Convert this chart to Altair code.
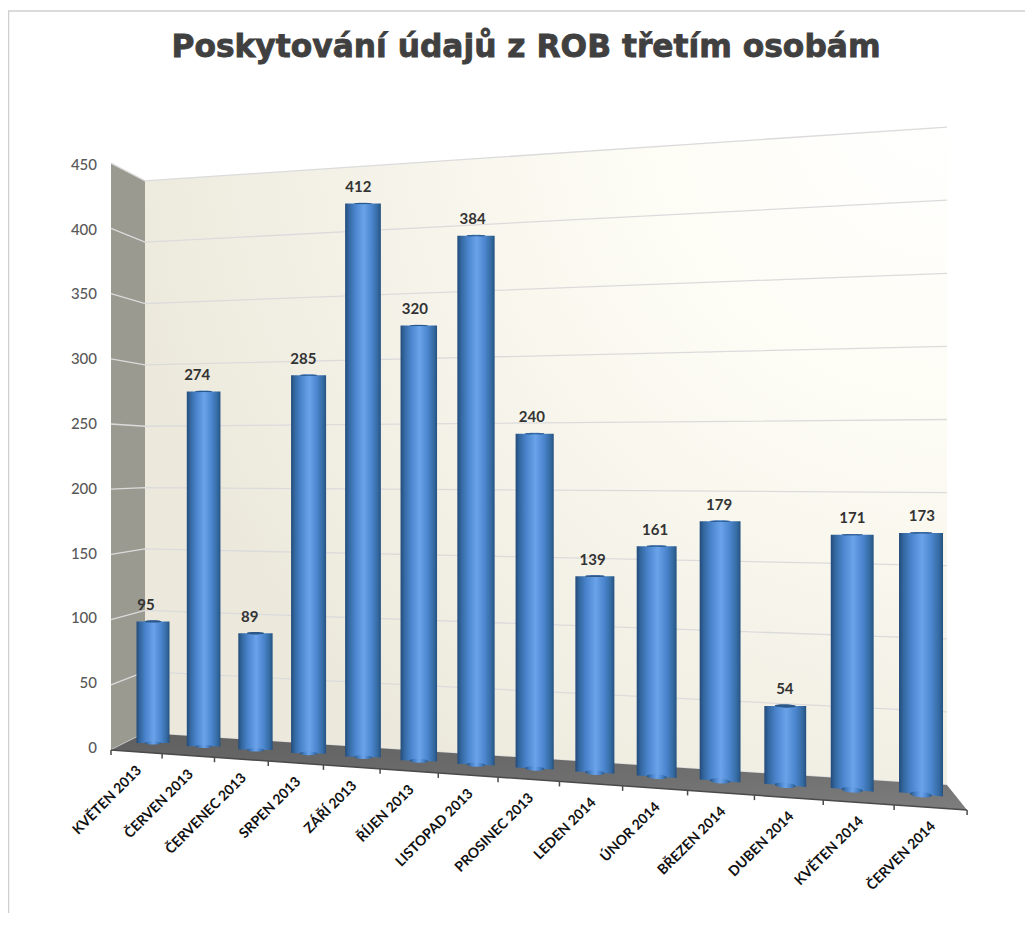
import altair as alt
import pandas as pd

categories = ["KVĚTEN 2013", "ČERVEN 2013", "ČERVENEC 2013", "SRPEN 2013", "ZÁŘÍ 2013", "ŘÍJEN 2013",
              "LISTOPAD 2013", "PROSINEC 2013", "LEDEN 2014", "ÚNOR 2014", "BŘEZEN 2014", "DUBEN 2014",
              "KVĚTEN 2014", "ČERVEN 2014"]
values = [95, 274, 89, 285, 412, 320, 384, 240, 139, 161, 179, 54, 171, 173]
axis_ticks = list(range(0, 451, 50))
title_text = "Poskytování údajů z ROB třetím osobám"

# ---- scene: a projective view of the 3D chart box ----
X_MIN, X_MAX = 111, 1025
P_TOP, P_BOTTOM = 100, 830
AX_ZERO, AX_K = 748, 1.296


def vy(p):
    """Screen height -> units of the left value axis."""
    return (AX_ZERO - p) / AX_K


def bar_cx(i):
    return (153 + 48.22 * i) / (1 - 0.01179 * i)


def bar_w(i):
    return 33 / (1 - 0.01923 * i)


def bar_y(i, v):
    return (743 - 5.41 * i - 1.28 * v) / (1 - 0.01179 * i)


def front_x(t):
    return (111 + 49.07 * t) / (1 - 0.01249 * t)


def front_y(x):
    return 750 + (x - 111) * 60 / 856


def wall_left(v):
    return 733 - 1.227 * v


def wall_right(v):
    return 785 - 1.462 * v


def side_y(v):
    return 750 - 1.304 * v


def ell(ratio):
    r = round(ratio, 4)
    return f"M-1,0A1,{r},0,1,1,1,0A1,{r},0,1,1,-1,0Z"


def stops(pairs):
    return [alt.GradientStop(color=c, offset=o) for c, o in pairs]


WL, WR, FR = 145, 947, 967
top_v = axis_ticks[-1]

Y_SCALE = alt.Scale(domain=[vy(P_BOTTOM), vy(P_TOP)])
X = alt.X("x:Q", scale=alt.Scale(domain=[X_MIN, X_MAX]), axis=None)
Y = alt.Y("y:Q", scale=Y_SCALE, axis=None, stack=None)
Y_PLAIN = alt.Y("y:Q", scale=Y_SCALE, axis=None)

bar_grad = alt.LinearGradient(gradient="linear", x1=0, x2=1, y1=0, y2=0, stops=stops([
    ("#234a7a", 0), ("#33679f", 0.1), ("#4a84cc", 0.28), ("#6aa3ea", 0.52),
    ("#4a84cc", 0.75), ("#33699f", 0.92), ("#25507f", 1)]))
wall_grad = alt.RadialGradient(gradient="radial", x1=1.0, y1=0.05, x2=1.0, y2=0.05, r1=0, r2=1.05, stops=stops([
    ("#ffffff", 0), ("#fdfcf4", 0.4), ("#ece9dc", 1)]))
floor_grad = alt.LinearGradient(gradient="linear", x1=0, x2=1, y1=0, y2=1, stops=stops([
    ("#5f5f5f", 0), ("#6f6f6f", 0.6), ("#7d7d7d", 1)]))

# value-axis labels, placed on the same y scale
axis_df = pd.DataFrame({"x": [97] * len(axis_ticks), "y": axis_ticks, "t": [str(v) for v in axis_ticks]})
axis_labels = alt.Chart(axis_df).mark_text(
    font="Lato", fontSize=15, fontWeight=500, color="#595959", align="right", baseline="middle"
).encode(x=X, y=Y_PLAIN, text="t:N")

# frame
frame_df = pd.DataFrame({"x": [8.5, 8.5, 1025], "y": [vy(913), vy(11), vy(11)], "o": [0, 1, 2]})
frame = alt.Chart(frame_df).mark_line(color="#cfcfcf", strokeWidth=1.5, clip=False).encode(x=X, y=Y, order="o:Q")

# title
title_df = pd.DataFrame({"x": [526], "y": [vy(48)], "t": [title_text]})
title = alt.Chart(title_df).mark_text(
    font="DejaVu Sans", fontSize=31.3, fontWeight="bold", color="#404040", stroke="#404040", strokeWidth=0.8,
    align="center", baseline="middle"
).encode(x=X, y=Y_PLAIN, text="t:N")

# walls
back_df = pd.DataFrame({"x": [WL, WR], "y": [vy(wall_left(top_v)), vy(wall_right(top_v))],
                        "y2": [vy(wall_left(0)), vy(wall_right(0))]})
back = alt.Chart(back_df).mark_area(fill=wall_grad, opacity=1).encode(x=X, y=Y, y2="y2:Q")
side_df = pd.DataFrame({"x": [X_MIN, WL], "y": [vy(side_y(top_v)), vy(wall_left(top_v))],
                        "y2": [vy(side_y(0)), vy(wall_left(0))]})
side = alt.Chart(side_df).mark_area(color="#9a9a90", opacity=1).encode(x=X, y=Y, y2="y2:Q")

# gridlines
grid_rows = []
for v in axis_ticks:
    grid_rows += [{"x": X_MIN, "y": vy(side_y(v)), "g": v, "o": 0},
                  {"x": WL, "y": vy(wall_left(v)), "g": v, "o": 1},
                  {"x": WR, "y": vy(wall_right(v)), "g": v, "o": 2}]
grid = alt.Chart(pd.DataFrame(grid_rows)).mark_line(color="#dcdbdc", strokeWidth=1.3).encode(
    x=X, y=Y, detail="g:Q", order="o:Q")

# floor
fx = [X_MIN, WL, WR, FR]
floor_df = pd.DataFrame({"x": fx, "y": [vy(side_y(0)), vy(wall_left(0)), vy(wall_right(0)), vy(front_y(FR))],
                         "y2": [vy(front_y(x)) for x in fx]})
floor = alt.Chart(floor_df).mark_area(fill=floor_grad, opacity=1).encode(x=X, y=Y, y2="y2:Q")
edge_df = pd.DataFrame({"x": [X_MIN, FR], "y": [vy(front_y(X_MIN)), vy(front_y(FR))]})
edge = alt.Chart(edge_df).mark_line(color="#4a4a4a", strokeWidth=1.5).encode(x=X, y=Y)

# category ticks
tick_rows = []
for t in range(len(categories) + 1):
    x = front_x(t)
    tick_rows.append({"x": x, "y": vy(front_y(x)), "y2": vy(front_y(x) + 5)})
cat_ticks = alt.Chart(pd.DataFrame(tick_rows)).mark_rule(color="#4a4a4a", strokeWidth=1.5).encode(x=X, y=Y, y2="y2:Q")

# cylinders
body_rows, end_rows, label_rows, cat_rows = [], [], [], []
for i, (c, v) in enumerate(zip(categories, values)):
    cx, w = bar_cx(i), bar_w(i)
    base, top = bar_y(i, 0), bar_y(i, v)
    tilt = 0.42 * i
    slope = w / 2 * tilt * 3.14159 / 180
    body_rows += [{"x": cx - w / 2, "y": vy(top), "y2": vy(base - slope), "b": i},
                  {"x": cx + w / 2, "y": vy(top), "y2": vy(base + slope), "b": i}]
    ry = 3 + 0.2 * i
    cap_ry = max(1.1, 1 + (top - 530) * 0.014)
    end_rows.append({"x": cx, "y": vy(base), "sh": ell(ry / (w / 2)), "sz": (w / 2) ** 2, "ang": tilt,
                     "cy": vy(top), "csh": ell(cap_ry / (w / 2)), "cang": 0.2 * i if top > 600 else 0,
                     "bsh": ell(1.8 / (w / 2))})
    label_rows.append({"x": cx - 7 + 0.6 * i, "y": vy(top - 16.5), "t": str(v)})
    lx = front_x(i + 0.5) + 3
    cat_rows.append({"x": lx, "y": vy(front_y(lx) + 16.5), "t": c})

bodies = alt.Chart(pd.DataFrame(body_rows)).mark_area(fill=bar_grad, opacity=1).encode(
    x=X, y=Y, y2="y2:Q", detail="b:N")
end_df = pd.DataFrame(end_rows)
ends = alt.Chart(end_df)
bases = ends.mark_point(filled=True, fill=bar_grad, opacity=1, strokeWidth=0).encode(
    x=X, y=Y_PLAIN,
    shape=alt.Shape("sh:N", scale=None), size=alt.Size("sz:Q", scale=None), angle=alt.Angle("ang:Q", scale=None))
domes = ends.mark_point(filled=True, fill=bar_grad, opacity=1, strokeWidth=0).encode(
    x=X, y=alt.Y("cy:Q", scale=Y_SCALE, axis=None),
    shape=alt.Shape("bsh:N", scale=None), size=alt.Size("sz:Q", scale=None))
caps = ends.mark_point(filled=True, fill="#2b5688", opacity=1, strokeWidth=0).encode(
    x=X, y=alt.Y("cy:Q", scale=Y_SCALE, axis=None),
    shape=alt.Shape("csh:N", scale=None), size=alt.Size("sz:Q", scale=None), angle=alt.Angle("cang:Q", scale=None))

labels = alt.Chart(pd.DataFrame(label_rows)).mark_text(
    font="Lato", fontSize=15, fontWeight="bold", color="#333333", align="center", baseline="middle"
).encode(x=X, y=Y_PLAIN, text="t:N")
cat_labels = alt.Chart(pd.DataFrame(cat_rows)).mark_text(
    font="Lato", fontSize=14, fontWeight="bold", color="#111111", align="right", baseline="middle", angle=315
).encode(x=X, y=Y_PLAIN, text="t:N")

chart = alt.layer(
    frame, title, axis_labels, side, back, grid, floor, edge, cat_ticks,
    bodies, bases, domes, caps, labels, cat_labels
).properties(
    width=X_MAX - X_MIN,
    height=P_BOTTOM - P_TOP,
    padding={"left": 103, "top": 92, "right": 0, "bottom": 83},
    autosize=alt.AutoSizeParams(type="none"),
).configure_view(stroke=None)

chart.save("out.html", embed_options={"renderer": "svg", "actions": False})
